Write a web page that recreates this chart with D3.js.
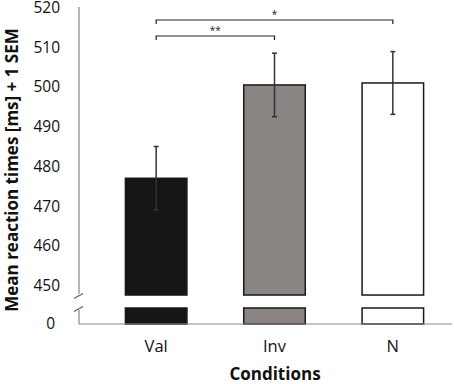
<!DOCTYPE html>
<html>
<head>
<meta charset="utf-8">
<script src="https://cdn.jsdelivr.net/npm/d3@7"></script>
<style>
  body { margin: 0; background: #fff; }
  text { font-family: "Open Sans", "Noto Sans", sans-serif; }
</style>
</head>
<body>
<div id="chart"></div>
<script>
// data
const conditions = ["Val", "Inv", "N"];
const means = [477, 500.5, 501];
const sems = [8, 8, 7.9];
const fills = ["#151515", "#8a8483", "#ffffff"];
const yTicks = [450, 460, 470, 480, 490, 500, 510, 520];
const sigPairs = [["Val", "Inv", "**"], ["Val", "N", "*"]];

const width = 454, height = 384;

const svg = d3.select("#chart").append("svg")
  .attr("width", width)
  .attr("height", height);

// scales
const x = d3.scaleBand()
  .domain(conditions)
  .range([97, 452])
  .paddingInner(0.48)
  .paddingOuter(0.24);

// upper (broken) part of the axis
const y = d3.scaleLinear()
  .domain([450, 520])
  .range([285.5, 7.5]);
const upperFloor = 447.6;   // where the upper bar part stops

// lower stub below the break
const yLow = d3.scaleLinear()
  .domain([0, 10])
  .range([324, 308]);

const axisX = 79;
const axisColor = "#8c8580";

// bars - upper part
svg.append("g")
  .selectAll("rect")
  .data(conditions)
  .enter().append("rect")
    .attr("x", d => x(d))
    .attr("y", (d, i) => y(means[i]))
    .attr("width", x.bandwidth())
    .attr("height", (d, i) => y(upperFloor) - y(means[i]))
    .attr("fill", (d, i) => fills[i])
    .attr("stroke", "#1a1a1a")
    .attr("stroke-width", 1.5);

// bars - lower stub
svg.append("g")
  .selectAll("rect")
  .data(conditions)
  .enter().append("rect")
    .attr("x", d => x(d))
    .attr("y", yLow(10))
    .attr("width", x.bandwidth())
    .attr("height", yLow(0) - yLow(10))
    .attr("fill", (d, i) => fills[i])
    .attr("stroke", "#1a1a1a")
    .attr("stroke-width", 1.5);

// error bars
const eb = svg.append("g").attr("stroke", "#333").attr("stroke-width", 1.5);
conditions.forEach(function(c, i) {
  const cx = x(c) + x.bandwidth() / 2;
  const lo = y(means[i] - sems[i]), hi = y(means[i] + sems[i]);
  eb.append("line").attr("x1", cx).attr("x2", cx).attr("y1", lo).attr("y2", hi);
  eb.append("line").attr("x1", cx - 2.5).attr("x2", cx + 2.5).attr("y1", hi).attr("y2", hi);
  eb.append("line").attr("x1", cx - 2.5).attr("x2", cx + 2.5).attr("y1", lo).attr("y2", lo);
});

// axes
svg.append("line")
  .attr("x1", axisX).attr("x2", axisX)
  .attr("y1", y(520) - 0.5).attr("y2", 294)
  .attr("stroke", axisColor).attr("stroke-width", 1.2);
svg.append("line")
  .attr("x1", axisX).attr("x2", axisX)
  .attr("y1", 310).attr("y2", yLow(0))
  .attr("stroke", axisColor).attr("stroke-width", 1.2);
svg.append("line")
  .attr("x1", axisX).attr("x2", 452)
  .attr("y1", yLow(0)).attr("y2", yLow(0))
  .attr("stroke", axisColor).attr("stroke-width", 1.2);

// break marks
[296, 309].forEach(function(by) {
  svg.append("line")
    .attr("x1", axisX - 5).attr("x2", axisX + 4)
    .attr("y1", by + 2.5).attr("y2", by - 2.5)
    .attr("stroke", "#6b5a4a").attr("stroke-width", 1.2);
});

const yAxis = svg.append("g")
  .attr("transform", "translate(60,0)")
  .call(d3.axisLeft(y).tickValues(yTicks).tickSize(0).tickPadding(0));
yAxis.select(".domain").remove();
yAxis.selectAll("text")
  .attr("font-size", "15.5px")
  .attr("fill", "#111")
  .style("font-family", "'Open Sans', sans-serif");

const yAxisLow = svg.append("g")
  .attr("transform", "translate(55,0)")
  .call(d3.axisLeft(yLow).tickValues([0]).tickSize(0).tickPadding(0));
yAxisLow.select(".domain").remove();
yAxisLow.selectAll("text")
  .attr("font-size", "15.5px")
  .attr("fill", "#111")
  .style("font-family", "'Open Sans', sans-serif");

const xAxis = svg.append("g")
  .attr("transform", "translate(0,340)")
  .call(d3.axisBottom(x).tickSize(0).tickPadding(0));
xAxis.select(".domain").remove();
xAxis.selectAll("text")
  .attr("font-size", "16.5px")
  .attr("fill", "#111")
  .style("font-family", "'Open Sans', sans-serif");

// axis titles
svg.append("text")
  .attr("transform", "translate(17.5,170) rotate(-90)")
  .attr("text-anchor", "middle")
  .attr("font-size", "17px")
  .attr("font-weight", "bold")
  .attr("fill", "#111")
  .text("Mean reaction times [ms] + 1 SEM");

svg.append("text")
  .attr("x", 275)
  .attr("y", 380)
  .attr("text-anchor", "middle")
  .attr("font-size", "17px")
  .attr("font-weight", "bold")
  .attr("fill", "#111")
  .text("Conditions");

// significance brackets
const bracketY = [36, 20];
sigPairs.forEach(function(p, i) {
  const x1 = x(p[0]) + x.bandwidth() / 2;
  const x2 = x(p[1]) + x.bandwidth() / 2;
  const by = bracketY[i];
  svg.append("path")
    .attr("d", `M${x1},${by + 4}V${by}H${x2}V${by + 4}`)
    .attr("fill", "none")
    .attr("stroke", "#222")
    .attr("stroke-width", 1.2);
  svg.append("text")
    .attr("x", (x1 + x2) / 2)
    .attr("y", by - 2)
    .attr("text-anchor", "middle")
    .attr("font-size", "10px")
    .attr("fill", "#222")
    .text(p[2]);
});
</script>
</body>
</html>
